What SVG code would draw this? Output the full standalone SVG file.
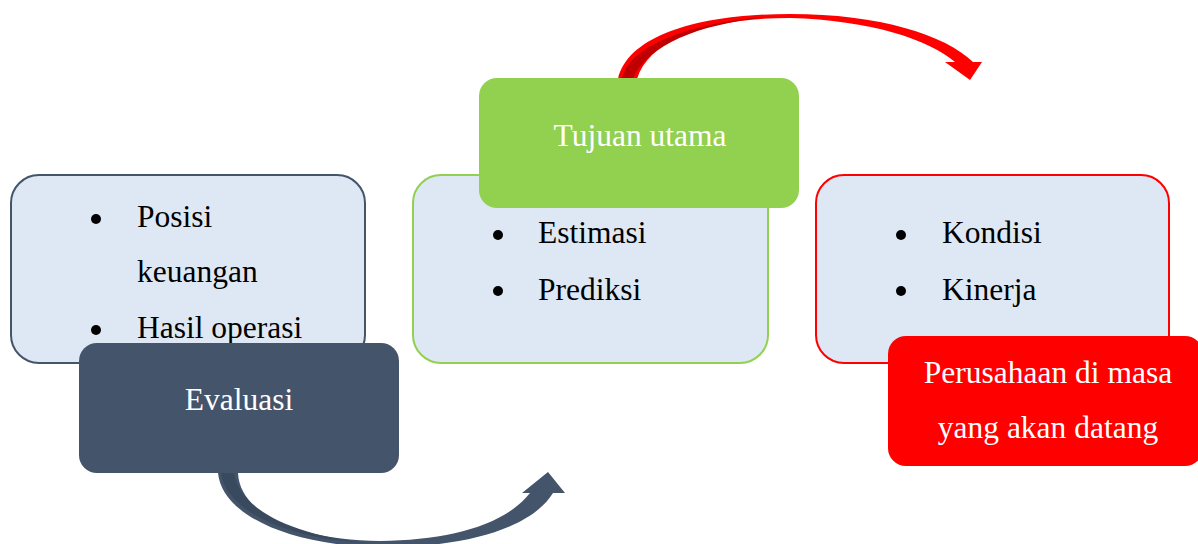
<svg xmlns="http://www.w3.org/2000/svg" width="1198" height="544" viewBox="0 0 1198 544">
<style>
  .t { font-family: "Liberation Serif", "Times New Roman", serif; font-size: 31.5px; }
  .dark { fill: #000000; }
  .white { fill: #ffffff; }
  .light { fill: #dee8f5; stroke-width: 2; }
  .bullet { fill: #000000; }
</style>
<rect width="1198" height="544" fill="#ffffff"/>
<g id="connectors">
  <path id="arrow-evaluasi-tujuan" d="M 218 473 C 222 515, 290 546, 380 547 C 460 548, 530 530, 553 493 L 565 493 L 548 472 L 522 493 L 530 493 C 505 525, 450 540, 380 541 C 300 540, 240 515, 238 473 Z" fill="#44546a"/>
  <path d="M 221 473 C 226 512, 290 540, 370 543 C 300 537, 240 512, 234 473 Z" fill="#3a4a5e"/>
  <path id="arrow-tujuan-perusahaan" d="M 618 79 C 628 35, 700 14, 790 14 C 880 14, 945 35, 973 62 L 982 62 L 970 80 L 945 62 L 955 62 C 930 40, 870 20, 790 18 C 710 18, 650 38, 637 79 Z" fill="#ff0000"/>
  <path d="M 622 78 C 632 42, 700 20, 780 16 C 705 22, 650 42, 633 78 Z" fill="#c00000"/>
</g>
<g id="node-evaluasi-list">
  <rect x="11" y="175" width="354" height="188" rx="28" class="light" stroke="#44546a"/>
  <circle cx="96" cy="219" r="5" class="bullet"/>
  <text x="137" y="227" class="t dark">Posisi</text>
  <text x="137" y="282" class="t dark">keuangan</text>
  <circle cx="96" cy="330" r="5" class="bullet"/>
  <text x="137" y="338" class="t dark">Hasil operasi</text>
</g>
<g id="node-evaluasi">
  <rect x="79" y="343" width="320" height="130" rx="18" fill="#44546a"/>
  <text x="239" y="410" text-anchor="middle" class="t white">Evaluasi</text>
</g>
<g id="node-tujuan-list">
  <rect x="413" y="175" width="355" height="188" rx="28" class="light" stroke="#92d050"/>
  <circle cx="498" cy="235" r="5" class="bullet"/>
  <text x="538" y="243" class="t dark">Estimasi</text>
  <circle cx="498" cy="291" r="5" class="bullet"/>
  <text x="538" y="300" class="t dark">Prediksi</text>
</g>
<g id="node-tujuan">
  <rect x="479" y="78" width="320" height="130" rx="18" fill="#92d050"/>
  <text x="640" y="146" text-anchor="middle" class="t white">Tujuan utama</text>
</g>
<g id="node-perusahaan-list">
  <rect x="816" y="175" width="353" height="188" rx="28" class="light" stroke="#ff0000"/>
  <circle cx="901" cy="235" r="5" class="bullet"/>
  <text x="942" y="243" class="t dark">Kondisi</text>
  <circle cx="901" cy="291" r="5" class="bullet"/>
  <text x="942" y="300" class="t dark">Kinerja</text>
</g>
<g id="node-perusahaan">
  <rect x="888" y="336" width="315" height="130" rx="18" fill="#ff0000"/>
  <text x="1048" y="383" text-anchor="middle" class="t white">Perusahaan di masa</text>
  <text x="1048" y="438" text-anchor="middle" class="t white">yang akan datang</text>
</g>
</svg>
